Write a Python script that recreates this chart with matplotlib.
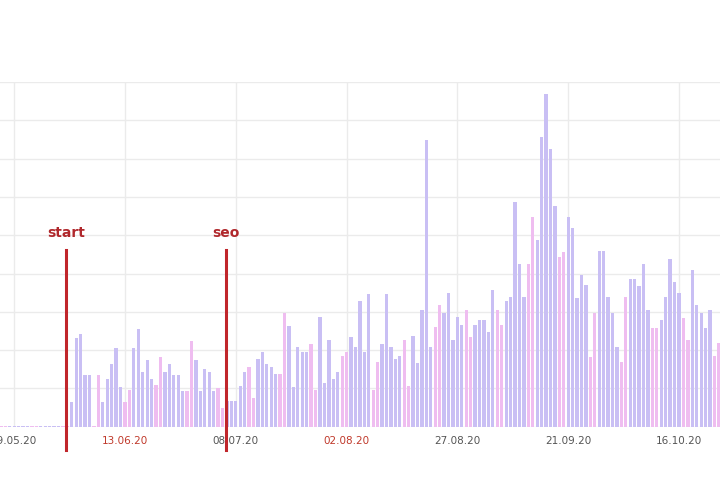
import pandas as pd
import matplotlib.pyplot as plt

# daily visits, 16.05.20 .. 25.10.20
dates = pd.date_range('2020-05-16', '2020-10-25', freq='D')
visits = [
    0.3, 0.3, 0.3, 0.3, 0.3, 0.3, 0.3, 0.3, 0.3, 0.3, 0.3, 0.3, 0.3, 0.3, 0.3, 0.3,
    6.4, 23.2, 24.3, 13.5, 13.5, 0.3, 13.5, 6.4, 12.4, 16.3, 20.5, 10.3, 6.4, 9.6,
    20.5, 25.5, 14.2, 17.3, 12.4, 11.0, 18.2, 14.2, 16.3, 13.5, 13.5, 9.3, 9.3, 22.4,
    17.3, 9.3, 15.2, 14.2, 9.3, 10.0, 5.0, 6.6, 6.6, 6.6, 10.7, 14.4, 15.5, 7.5,
    17.6, 19.4, 16.5, 15.5, 13.8, 13.8, 29.6, 26.4, 10.5, 20.8, 19.5, 19.5, 21.7, 9.6,
    28.7, 11.4, 22.7, 12.5, 14.4, 18.4, 19.5, 23.5, 20.9, 32.8, 19.6, 34.7, 9.5, 16.8,
    21.7, 34.7, 20.8, 17.7, 18.4, 22.7, 10.6, 23.6, 16.6, 30.4, 74.8, 20.8, 26.0, 31.8,
    29.8, 34.8, 22.6, 28.7, 26.5, 30.6, 23.4, 26.5, 27.8, 27.8, 24.7, 35.8, 30.5, 26.5,
    32.9, 33.9, 58.7, 42.5, 33.9, 42.5, 54.8, 48.7, 75.6, 86.8, 72.6, 57.7, 44.4, 45.7,
    54.8, 51.8, 33.5, 39.6, 37.0, 18.3, 29.6, 45.9, 45.9, 33.9, 29.7, 20.9, 17.0, 33.9,
    38.5, 38.5, 36.7, 42.6, 30.6, 25.9, 25.9, 27.8, 33.9, 43.7, 37.9, 34.8, 28.5, 22.6,
    40.9, 31.8, 29.8, 25.9, 30.6, 18.5, 21.8,
]

tick_dates = pd.to_datetime(['2020-05-19', '2020-06-13', '2020-07-08', '2020-08-02',
                             '2020-08-27', '2020-09-21', '2020-10-16'])
events = ['start', 'seo']
event_dates = pd.to_datetime(['2020-05-30 19:00', '2020-07-05 19:00'])

day0 = pd.Timestamp('2020-05-19')
x = (dates - day0).days
colors = ['#efbdf0' if d.dayofweek >= 5 else '#c9bff4' for d in dates]

fig = plt.figure(figsize=(7.2, 4.8), dpi=100)
ax = fig.add_axes([0, 0.111, 1, 0.718])

ax.bar(x, visits, width=0.74, color=colors, zorder=2)

ax.set_xlim(-3.2, 159.25)
ax.set_ylim(0, 90)
ax.set_yticks(range(0, 91, 10))
ax.set_yticklabels([])
ax.tick_params(axis='y', length=0)

tx = (tick_dates - day0).days
ax.set_xticks(tx)
ax.set_xticklabels([d.strftime('%d.%m.%y') for d in tick_dates], fontsize=7.5)
for lab, d in zip(ax.get_xticklabels(), tick_dates):
    lab.set_color('#c0392b' if d.dayofweek >= 5 else '#555555')
ax.tick_params(axis='x', length=0, pad=7)

ax.grid(True, color='#ebebeb', lw=1, zorder=0)
for s in ax.spines.values():
    s.set_visible(False)

ex = (event_dates - day0) / pd.Timedelta(days=1)
for name, xe in zip(events, ex):
    ax.plot([xe, xe], [-6.1, 46.1], color='#c0262b', lw=2.2, clip_on=False, zorder=3)
    ax.text(xe, 50.6, name, color='#b0282c', fontsize=10, fontweight='bold',
            ha='center', va='center')

plt.savefig('out.png', dpi=100)
